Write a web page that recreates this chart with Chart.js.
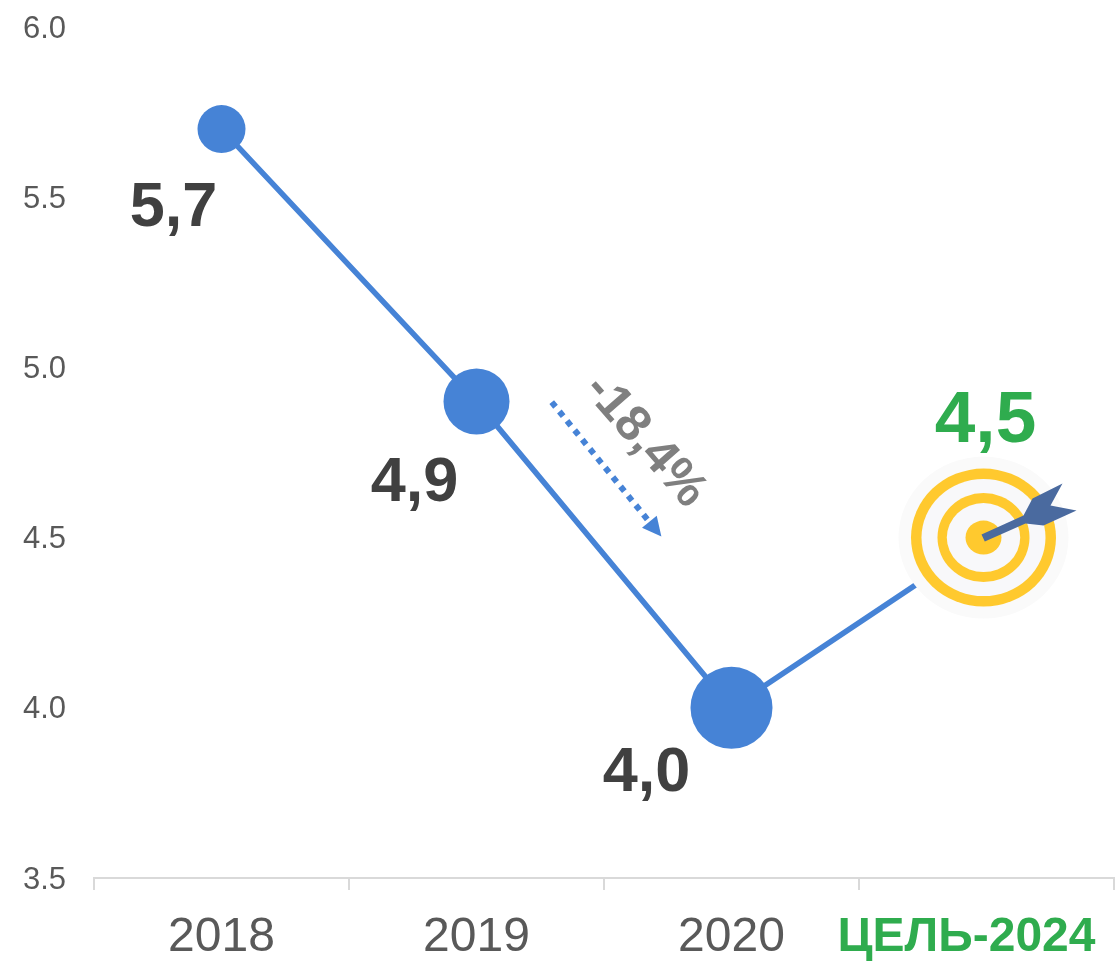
<!DOCTYPE html>
<html><head><meta charset="utf-8">
<script src="https://cdn.jsdelivr.net/npm/chart.js@4"></script>
<style>html,body{margin:0;padding:0;background:#fff}#w{position:relative;width:1117px;height:962px}</style>
</head><body><div id="w"><canvas id="c" width="1117" height="962"></canvas></div>
<script>
const categories = ['2018','2019','2020','ЦЕЛЬ-2024'];
const values = [5.7,4.9,4.0,4.5];
const valueLabels = ['5,7','4,9','4,0','4,5'];
const yTicks = [3.5,4.0,4.5,5.0,5.5,6.0];
const changeLabel = '-18,4%';
const BLUE='#4683d6', GREEN='#2fac4e', DARK='#404040', FONT='"Liberation Sans", Arial, sans-serif';

const overlay = {
  id:'overlay',
  afterDatasetsDraw(chart){
    const {ctx,scales:{x,y}}=chart;
    ctx.save();
    // value labels
    const lo=[[-48,80],[-62,82],[-85,66],[-1,-116]];
    values.forEach((v,i)=>{
      ctx.font='bold '+(i===3?73:63)+'px '+FONT;
      ctx.fillStyle=i===3?GREEN:DARK;
      ctx.textAlign='center';ctx.textBaseline='middle';
      ctx.fillText(valueLabels[i],x.getPixelForValue(i)+lo[i][0],y.getPixelForValue(v)+lo[i][1]);
    });
    // target icon
    const cx=x.getPixelForValue(3)-3, cy=y.getPixelForValue(values[3]);
    const disc=(rx,ry,c)=>{ctx.beginPath();ctx.ellipse(cx,cy,rx,ry,0,0,Math.PI*2);ctx.fillStyle=c;ctx.fill();};
    disc(85,81,'#fafafa');disc(72.5,69,'#ffc92e');disc(62,58.5,'#f8f8fa');disc(46,44.5,'#ffc92e');disc(36.7,34.5,'#f8f8fa');disc(18,17,'#ffc92e');
    ctx.fillStyle='#4a6a9f';
    const dart=[[-2,-3],[40,-22],[49,-39],[79,-54],[67,-32],[93,-27],[60,-12],[42,-14],[1.3,4]];
    ctx.beginPath();dart.forEach((p,i)=>i?ctx.lineTo(cx+p[0],cy+p[1]):ctx.moveTo(cx+p[0],cy+p[1]));ctx.closePath();ctx.fill();
    // trend arrow, placed in category/value units
    const ax0=x.getPixelForValue(1.295), ay0=y.getPixelForValue(4.898);
    const ax1=x.getPixelForValue(1.725), ay1=y.getPixelForValue(4.503);
    const ang=Math.atan2(ay1-ay0,ax1-ax0);
    ctx.strokeStyle=BLUE;ctx.lineWidth=6;ctx.setLineDash([6,6.1]);
    ctx.beginPath();ctx.moveTo(ax0,ay0);ctx.lineTo(ax1-14*Math.cos(ang),ay1-14*Math.sin(ang));ctx.stroke();
    ctx.setLineDash([]);
    ctx.translate(ax1,ay1);ctx.rotate(ang);
    ctx.fillStyle=BLUE;ctx.beginPath();ctx.moveTo(0,0);ctx.lineTo(-19,-9.5);ctx.lineTo(-19,9.5);ctx.closePath();ctx.fill();
    ctx.restore();ctx.save();
    // change label
    ctx.translate(x.getPixelForValue(1.66),y.getPixelForValue(4.784));
    ctx.rotate(49*Math.PI/180);
    ctx.font='bold 50px '+FONT;ctx.fillStyle='#7f7f7f';ctx.textAlign='center';ctx.textBaseline='middle';
    ctx.fillText(changeLabel,0,0);
    ctx.restore();
  }
};

new Chart(document.getElementById('c'),{
  type:'line',
  data:{labels:categories,datasets:[{
    data:values,borderColor:BLUE,borderWidth:5.5,tension:0,
    pointBackgroundColor:BLUE,pointBorderWidth:0,
    pointRadius:[24,33,41,0]
  }]},
  plugins:[overlay],
  options:{
    responsive:false,animation:false,
    layout:{autoPadding:false,padding:{top:27,right:3,bottom:0,left:0}},
    plugins:{legend:{display:false},tooltip:{enabled:false}},
    scales:{
      x:{
        offset:true,
        beforeUpdate(s){
          const base=Object.getPrototypeOf(s).getLabelItems;
          s.getLabelItems=function(a){
            const items=base.call(this,a);
            const last=items[items.length-1];
            if(last&&!last._shifted){last.options.translation[0]-=20;last._shifted=true;}
            return items;
          };
        },
        afterFit(s){s.height=84;s.paddingLeft=0;s.paddingRight=0;},
        border:{color:'#d9d9d9',width:2},
        grid:{offset:true,drawOnChartArea:false,color:'#d9d9d9',lineWidth:2,tickLength:12},
        ticks:{padding:19,maxRotation:0,autoSkip:false,
          color:c=>c.index===3?GREEN:'#595959',
          font:c=>c.index===3?{family:FONT,size:48,weight:'bold'}:{family:FONT,size:48}}
      },
      y:{
        min:3.5,max:6,
        beforeUpdate(s){
          const base=Object.getPrototypeOf(s).getLabelItems;
          s.getLabelItems=function(a){
            const items=base.call(this,a);
            items.forEach(it=>{if(!it._shifted){it.options.translation[1]+=2;it._shifted=true;}});
            return items;
          };
        },
        afterFit(s){s.width=94;s.paddingTop=0;s.paddingBottom=0;},
        afterBuildTicks(s){s.ticks=yTicks.map(v=>({value:v}));},
        border:{display:false},
        grid:{display:false,drawTicks:false},
        ticks:{padding:28,color:'#595959',font:{family:FONT,size:31},callback:v=>v.toFixed(1)}
      }
    }
  }
});
</script></body></html>
